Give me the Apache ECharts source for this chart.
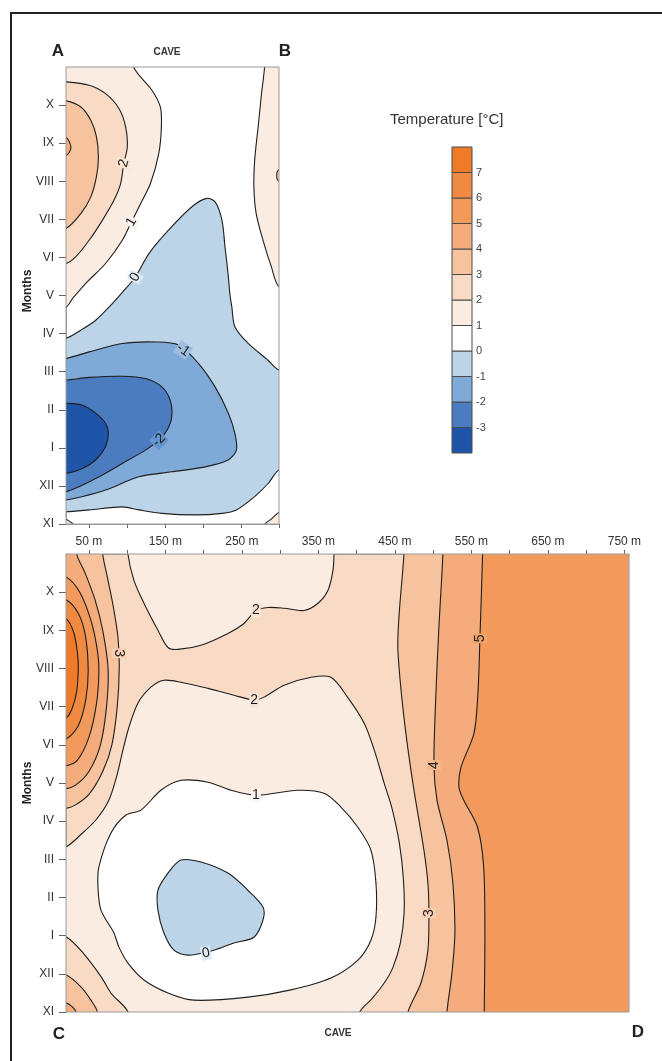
<!DOCTYPE html>
<html>
<head>
<meta charset="utf-8">
<title>Cave temperature</title>
<script src="https://cdn.jsdelivr.net/npm/echarts@6/dist/echarts.min.js"></script>
<style>
  html, body { margin: 0; padding: 0; background: #fff; }
  #chart { width: 662px; height: 1061px; }
</style>
</head>
<body>
<div id="chart"></div>
<script>
// Month ticks from bottom (XI) to top (X), value = index
const months = ['XI', 'XII', 'I', 'II', 'III', 'IV', 'V', 'VI', 'VII', 'VIII', 'IX', 'X'];
const distTicks = [50, 100, 150, 200, 250, 300, 350, 400, 450, 500, 550, 600, 650, 700, 750];
const distLabels = [50, 150, 250, 350, 450, 550, 650, 750];
const levels = [-3, -2, -1, 0, 1, 2, 3, 4, 5, 6, 7];

// ---- Top panel (A-B), contour lines as [distance m, month index] ----
const topC1Left = [[109, 12], [133, 11.39], [144, 10.95], [145.4, 10.43], [142, 9.73], [131, 8.94], [116, 8.33], [106, 7.93], [94, 7.45], [72, 6.84], [46, 6.32], [29, 5.93], [20, 5.7]];
const topC2 = [[20, 11.61], [50.4, 11.52], [72, 11.3], [89.6, 10.91], [98.4, 10.43], [100.6, 9.9], [96, 9.47], [91.8, 8.94], [83, 8.5], [68, 7.98], [50.4, 7.45], [33, 7.02], [20, 6.84]];
const topC3 = [[20, 11.11], [39.5, 10.95], [52.6, 10.6], [60, 10.17], [62.6, 9.64], [60, 9.12], [52.6, 8.59], [39.5, 8.15], [20, 7.76]];
const topC4 = [[20, 10.15], [24, 10.05], [26.5, 9.9], [24, 9.75], [20, 9.68]];
const topC1Right = [[281, 12], [277, 11.3], [272.6, 10.43], [268, 9.55], [267, 8.85], [270, 8.15], [279, 7.45], [290, 6.75], [300, 6.23]];
const topC2Right = [[300, 9.3], [297, 9.15], [300, 9.0]];
const topC0Upper = [[20, 4.88], [39.5, 5.09], [59, 5.35], [79, 5.75], [94.4, 6.09], [111, 6.48], [129, 7.1], [155, 7.72], [185.5, 8.33], [205, 8.55], [216, 8.46], [225, 7.98], [229, 7.28], [233, 6.58], [235.6, 6.01], [238, 5.7], [242, 5.18], [259.5, 4.74], [285.6, 4.3], [300, 4.04]];
const topC0Lower = [[20, 0.32], [50.4, 0.37], [94, 0.45], [116, 0.37], [146, 0.28], [190, 0.24], [225, 0.28], [244, 0.37], [268, 0.72], [286, 1.07], [300, 1.42]];
const topCm1 = [[20, 4.35], [50.4, 4.52], [94, 4.74], [137.6, 4.78], [168, 4.7], [194, 4.22], [216, 3.6], [233.4, 2.91], [242, 2.38], [244, 1.94], [233, 1.68], [203, 1.5], [159, 1.37], [116, 1.24], [72, 0.89], [42, 0.72], [20, 0.63]];
const topCm2 = [[20, 3.78], [50.4, 3.85], [94, 3.88], [124.5, 3.82], [146, 3.6], [157, 3.25], [159, 2.82], [153, 2.47], [142, 2.2], [124.5, 1.94], [94, 1.59], [63.5, 1.24], [37, 0.98], [20, 0.85]];
const topCm3 = [[20, 3.17], [41.8, 3.12], [59, 2.91], [72, 2.64], [75.7, 2.38], [72, 2.03], [59, 1.68], [41.8, 1.46], [20, 1.33]];
const topC1BL = [[20, 0.12], [26, 0.05], [29, 0]];
const topC1BR = [[281.7, 0], [288, 0.1], [298, 0.28], [300, 0.3]];
const topLabels = [[96, 9.47, '2'], [106, 7.93, '1'], [111, 6.48, '0'], [174, 4.57, '-1'], [142, 2.2, '-2']];

// ---- Bottom panel (C-D) ----
const botC2Upper = [[101, 12], [108.8, 11.31], [121.9, 10.71], [140.2, 10.0], [153.3, 9.55], [166.3, 9.5], [196.4, 9.61], [231.7, 9.92], [252.6, 10.18], [268.3, 10.52], [284, 10.6], [305, 10.58], [331, 10.52], [349.4, 10.71], [362.5, 11.05], [369, 11.57], [370.3, 12]];
const botC2Lower = [[20, 4.33], [39.5, 4.65], [59, 5.03], [76, 5.55], [86.6, 6.2], [94.4, 6.86], [102.3, 7.46], [114, 8.09], [131, 8.51], [148, 8.69], [170.3, 8.64], [205.6, 8.48], [239.6, 8.3], [266, 8.17], [279, 8.25], [305, 8.56], [340.5, 8.77], [366.3, 8.77], [388, 8.25], [410, 7.56], [423, 6.86], [436, 5.99], [446, 5.35], [456, 4.4], [461, 3.5], [462, 2.6], [457, 1.8], [447, 1.15], [436, 0.76], [420, 0.35], [404, 0]];
const botC1 = [[118, 5.29], [144.1, 5.81], [170.3, 6.07], [205.6, 6.02], [235.6, 5.81], [268.3, 5.68], [323.2, 5.81], [357.2, 5.73], [379.4, 5.37], [401.6, 4.84], [418.6, 4.24], [425.2, 3.38], [425.2, 2.49], [418.6, 1.88], [401.6, 1.36], [366.3, 0.89], [314, 0.58], [257.8, 0.39], [187.3, 0.31], [153.3, 0.5], [121.9, 0.84], [101, 1.28], [89.2, 1.7], [82.7, 2.07], [65.7, 2.67], [61.8, 3.27], [63, 3.8], [78.8, 4.69], [98.4, 5.16]];
const botC0 = [[170.3, 3.98], [196.4, 3.93], [231.7, 3.64], [257.8, 3.19], [277.5, 2.75], [277.5, 2.41], [265.7, 1.96], [239.5, 1.81], [213.4, 1.62], [179.4, 1.49], [161.1, 1.62], [148, 2.07], [140.2, 2.67], [140.2, 3.19], [153.3, 3.64]];
const botC3Right = [[461.8, 12], [455.2, 10.34], [453.9, 9.48], [461.8, 7.72], [473.5, 5.99], [487.9, 4.24], [493.1, 3.38], [494.4, 2.59], [493.1, 1.62], [484, 0.76], [467, 0]];
const botC4Right = [[512.7, 12], [507.5, 10.08], [503.6, 8.35], [501, 6.47], [505, 5.55], [518, 4.5], [525.8, 3.38], [528.4, 2.07], [524.5, 1.02], [518, 0]];
const botC5Right = [[564.6, 12], [561.1, 9.79], [558.5, 8.35], [553.3, 7.3], [536.3, 6.41], [533.7, 5.89], [540, 5.55], [558, 4.84], [566, 3.8], [567.6, 2.07], [566.8, 0]];
const botC3Ring = [[68, 12], [74, 11.4], [82, 10.6], [88, 9.8], [89.6, 9.0], [87, 8.0], [80, 7.0], [68, 6.3], [50, 5.7], [32, 5.42], [20, 5.34]];
const botC4Ring = [[34, 12], [45, 11.5], [58, 10.8], [68, 10.0], [75, 9.0], [73, 8.0], [65, 7.0], [50, 6.3], [33, 5.95], [20, 5.85]];
const botC5Ring = [[20, 11.4], [38, 11.0], [52, 10.3], [60, 9.6], [63, 9.0], [60, 8.1], [50, 7.2], [35, 6.6], [20, 6.45]];
const botC6Ring = [[20, 10.8], [36, 10.45], [45, 9.9], [49, 9.0], [46, 8.2], [36, 7.5], [20, 7.15]];
const botC7Ring = [[20, 10.3], [30, 9.95], [35, 9.4], [36, 9.0], [34, 8.4], [28, 7.95], [20, 7.7]];
const botC2BL = [[20, 1.97], [43, 1.53], [66, 0.92], [79, 0.49], [101, 0]];
const botC3BL = [[20, 0.97], [39.5, 0.66], [52.6, 0.31], [61, 0]];
const botC4BL = [[20, 0.24], [28, 0.14], [33, 0]];
const botLabels = [[89.3, 9.4, '3'], [268.3, 10.52, '2'], [266, 8.17, '2'], [268.3, 5.68, '1'], [203, 1.54, '0'], [494.4, 2.59, '3'], [501, 6.47, '4'], [561.1, 9.79, '5']];

// ---- styles / layout ----
const bandColors = ['#1f55a8', '#4b7cc0', '#7fa9d6', '#bcd4e7', '#ffffff', '#fbece1',
                    '#f9dbc5', '#f7c39e', '#f4ac7c', '#f29a5b', '#f08a41', '#ef7b29'];
const FONT = '"Liberation Sans", Arial, sans-serif';
const TOP = { left: 66, top: 67, width: 213, height: 457 };
const BOT = { left: 66, top: 554, width: 563, height: 458 };
const BAR = { left: 452, top: 147, width: 20, height: 306 };
const topLabelRot = [75, 60, 60, -35, 45];
const topLabelBands = [[5, 6], [4, 5], [3, 4], [2, 3], [1, 2]];
const botLabelRot = [-90, 0, 0, 0, 12, 90, 90, 90];
const botLabelBands = [[6, 7], [5, 6], [5, 6], [4, 5], [3, 4], [6, 7], [7, 8], [8, 9]];

const rev = a => a.slice().reverse();

// painter's order: later regions sit on top. wrap = points outside the plot that close the shape
const topRegions = [
    { band: 5, pts: topC1Left, wrap: [[0, 5.7], [0, 12.6], [109, 12.6]] },
    { band: 6, pts: topC2, wrap: [[0, 6.84], [0, 11.61]] },
    { band: 7, pts: topC3, wrap: [[0, 7.76], [0, 11.11]] },
    { band: 8, pts: topC4, wrap: [[0, 9.68], [0, 10.15]] },
    { band: 5, pts: topC1Right, wrap: [[320, 6.23], [320, 12.6], [281, 12.6]] },
    { band: 6, pts: topC2Right, wrap: [[320, 9.0], [320, 9.3]] },
    { band: 3, pts: topC0Upper.concat([[320, 4.04], [320, 1.42]], rev(topC0Lower)), wrap: [[0, 0.32], [0, 4.88]] },
    { band: 2, pts: topCm1, wrap: [[0, 0.63], [0, 4.35]] },
    { band: 1, pts: topCm2, wrap: [[0, 0.85], [0, 3.78]] },
    { band: 0, pts: topCm3, wrap: [[0, 1.33], [0, 3.17]] },
    { band: 5, pts: topC1BL, wrap: [[29, -0.6], [0, -0.6], [0, 0.12]] },
    { band: 5, pts: topC1BR, wrap: [[320, 0.3], [320, -0.6], [281.7, -0.6]] }
];

const botRegions = [
    { band: 5, pts: botC2Upper, wrap: [[370.3, 12.6], [101, 12.6]] },
    { band: 5, pts: botC2Lower, wrap: [[400, -0.6], [0, -0.6], [0, 4.33]] },
    { band: 4, pts: botC1, wrap: [] },
    { band: 3, pts: botC0, wrap: [] },
    { band: 7, pts: botC3Right, wrap: [[465, -0.6], [800, -0.6], [800, 12.6], [461.8, 12.6]] },
    { band: 8, pts: botC4Right, wrap: [[517, -0.6], [800, -0.6], [800, 12.6], [512.7, 12.6]] },
    { band: 9, pts: botC5Right, wrap: [[566.8, -0.6], [800, -0.6], [800, 12.6], [564.6, 12.6]] },
    { band: 7, pts: botC3Ring, wrap: [[0, 5.34], [0, 12.6], [68, 12.6]] },
    { band: 8, pts: botC4Ring, wrap: [[0, 5.85], [0, 12.6], [34, 12.6]] },
    { band: 9, pts: botC5Ring, wrap: [[0, 6.45], [0, 11.4]] },
    { band: 10, pts: botC6Ring, wrap: [[0, 7.15], [0, 10.8]] },
    { band: 11, pts: botC7Ring, wrap: [[0, 7.7], [0, 10.3]] },
    { band: 6, pts: botC2BL, wrap: [[101, -0.6], [0, -0.6], [0, 1.97]] },
    { band: 7, pts: botC3BL, wrap: [[61, -0.6], [0, -0.6], [0, 0.97]] },
    { band: 8, pts: botC4BL, wrap: [[33, -0.6], [0, -0.6], [0, 0.24]] }
];

function mix(a, b) {
    const p = c => [1, 3, 5].map(i => parseInt(c.substr(i, 2), 16));
    const x = p(a), y = p(b);
    return 'rgb(' + x.map((v, i) => Math.round((v + y[i]) / 2)).join(',') + ')';
}

function regionSeries(regions, idx) {
    return {
        type: 'custom',
        coordinateSystem: 'cartesian2d',
        xAxisIndex: idx,
        yAxisIndex: idx,
        clip: true,
        silent: true,
        z: 2,
        data: regions.map((r, i) => [r.pts[0][0], r.pts[0][1], i]),
        renderItem: (params, api) => {
            const i = api.value(2);
            const r = regions[i];
            const points = r.pts.concat(r.wrap).map(p => api.coord(p));
            return {
                type: 'polygon',
                z2: i,
                shape: { points, smooth: 0.3 },
                style: { fill: bandColors[r.band], stroke: '#1e1e1e', lineWidth: 1.1 }
            };
        }
    };
}

function labelSeries(labels, rots, bands, idx) {
    return {
        type: 'custom',
        coordinateSystem: 'cartesian2d',
        xAxisIndex: idx,
        yAxisIndex: idx,
        silent: true,
        z: 4,
        data: labels.map(l => [l[0], l[1]]),
        renderItem: (params, api) => {
            const i = params.dataIndex;
            const p = api.coord([labels[i][0], labels[i][1]]);
            return {
                type: 'text',
                x: p[0],
                y: p[1],
                rotation: rots[i] * Math.PI / 180,
                style: {
                    text: labels[i][2],
                    x: 0, y: 0,
                    align: 'center', verticalAlign: 'middle',
                    textAlign: 'center', textVerticalAlign: 'middle',
                    fill: '#1e1e1e',
                    font: '14px ' + FONT,
                    backgroundColor: mix(bandColors[bands[i][0]], bandColors[bands[i][1]]),
                    padding: [0, 1]
                }
            };
        }
    };
}

const monthAxis = idx => ({
    gridIndex: idx,
    type: 'value',
    min: 0,
    max: 12,
    axisLine: { show: true, onZero: false, lineStyle: { color: '#9a9a9a', width: 1 } },
    axisTick: { show: true, length: 7, customValues: months.map((m, i) => i), lineStyle: { color: '#666' } },
    axisLabel: {
        customValues: months.map((m, i) => i),
        formatter: v => months[Math.round(v)] || '',
        margin: 12, fontFamily: FONT, fontSize: 12, color: '#333'
    },
    splitLine: { show: false }
});

const chart = echarts.init(document.getElementById('chart'), null, { renderer: 'canvas' });

chart.setOption({
    animation: false,
    backgroundColor: '#fff',
    grid: [
        Object.assign({ backgroundColor: '#ffffff', show: true, borderWidth: 0, outerBoundsMode: 'none' }, TOP),
        Object.assign({ backgroundColor: bandColors[6], show: true, borderWidth: 0, outerBoundsMode: 'none' }, BOT),
        Object.assign({ outerBoundsMode: 'none' }, BAR)
    ],
    xAxis: [
        {
            gridIndex: 0, type: 'value', min: 20, max: 300, position: 'bottom',
            axisLine: { show: true, onZero: false, lineStyle: { color: '#9a9a9a' } },
            axisTick: { show: true, length: 4, customValues: distTicks.filter(d => d <= 300), lineStyle: { color: '#666' } },
            axisLabel: { show: false },
            splitLine: { show: false }
        },
        {
            gridIndex: 1, type: 'value', min: 20, max: 756, position: 'top',
            axisLine: { show: true, onZero: false, lineStyle: { color: '#9a9a9a' } },
            axisTick: { show: true, length: 4, customValues: distTicks, lineStyle: { color: '#666' } },
            axisLabel: {
                customValues: distLabels, formatter: '{value} m', margin: 6,
                fontFamily: FONT, fontSize: 12, color: '#333'
            },
            splitLine: { show: false }
        },
        { gridIndex: 2, type: 'value', min: 0, max: 1, show: false }
    ],
    yAxis: [
        monthAxis(0),
        monthAxis(1),
        {
            gridIndex: 2, type: 'value', min: -4, max: 8, position: 'right',
            axisLine: { show: false, onZero: false }, axisTick: { show: false }, splitLine: { show: false },
            axisLabel: { customValues: levels, margin: 4, fontFamily: FONT, fontSize: 11, color: '#444' }
        }
    ],
    series: [
        regionSeries(topRegions, 0),
        regionSeries(botRegions, 1),
        labelSeries(topLabels, topLabelRot, topLabelBands, 0),
        labelSeries(botLabels, botLabelRot, botLabelBands, 1),
        {
            // colour scale, one box per temperature band
            type: 'custom',
            coordinateSystem: 'cartesian2d',
            xAxisIndex: 2,
            yAxisIndex: 2,
            silent: true,
            data: bandColors.map((c, i) => [0.5, -4 + i + 0.5, i]),
            renderItem: (params, api) => {
                const i = api.value(2);
                const a = api.coord([0, -4 + i + 1]);
                const b = api.coord([1, -4 + i]);
                return {
                    type: 'rect',
                    shape: { x: a[0], y: a[1], width: b[0] - a[0], height: b[1] - a[1] },
                    style: { fill: bandColors[i], stroke: '#4a4a4a', lineWidth: 1 }
                };
            }
        }
    ],
    graphic: [
        { type: 'rect', z: 100, silent: true, shape: { x: 11, y: 13, width: 720, height: 1100 }, style: { fill: null, stroke: '#222', lineWidth: 2 } },
        { type: 'rect', z: 100, silent: true, shape: { x: TOP.left, y: TOP.top, width: TOP.width, height: TOP.height }, style: { fill: null, stroke: '#9a9a9a', lineWidth: 1 } },
        { type: 'rect', z: 100, silent: true, shape: { x: BOT.left, y: BOT.top, width: BOT.width, height: BOT.height }, style: { fill: null, stroke: '#9a9a9a', lineWidth: 1 } },
        { type: 'text', z: 100, x: 28, y: 291, rotation: Math.PI / 2, style: { text: 'Months', font: 'bold 12px ' + FONT, fill: '#222', align: 'center', verticalAlign: 'middle' } },
        { type: 'text', z: 100, x: 28, y: 783, rotation: Math.PI / 2, style: { text: 'Months', font: 'bold 12px ' + FONT, fill: '#222', align: 'center', verticalAlign: 'middle' } },
        { type: 'text', z: 100, x: 58, y: 51, style: { text: 'A', font: 'bold 17px ' + FONT, fill: '#222', align: 'center', verticalAlign: 'middle' } },
        { type: 'text', z: 100, x: 167, y: 52, style: { text: 'CAVE', font: 'bold 10px ' + FONT, fill: '#333', align: 'center', verticalAlign: 'middle' } },
        { type: 'text', z: 100, x: 285, y: 51, style: { text: 'B', font: 'bold 17px ' + FONT, fill: '#222', align: 'center', verticalAlign: 'middle' } },
        { type: 'text', z: 100, x: 59, y: 1034, style: { text: 'C', font: 'bold 17px ' + FONT, fill: '#222', align: 'center', verticalAlign: 'middle' } },
        { type: 'text', z: 100, x: 338, y: 1033, style: { text: 'CAVE', font: 'bold 10px ' + FONT, fill: '#333', align: 'center', verticalAlign: 'middle' } },
        { type: 'text', z: 100, x: 638, y: 1032, style: { text: 'D', font: 'bold 17px ' + FONT, fill: '#222', align: 'center', verticalAlign: 'middle' } },
        { type: 'text', z: 100, x: 390, y: 120, style: { text: 'Temperature [°C]', font: '15px ' + FONT, fill: '#333', align: 'left', verticalAlign: 'middle' } }
    ]
});
</script>
</body>
</html>
